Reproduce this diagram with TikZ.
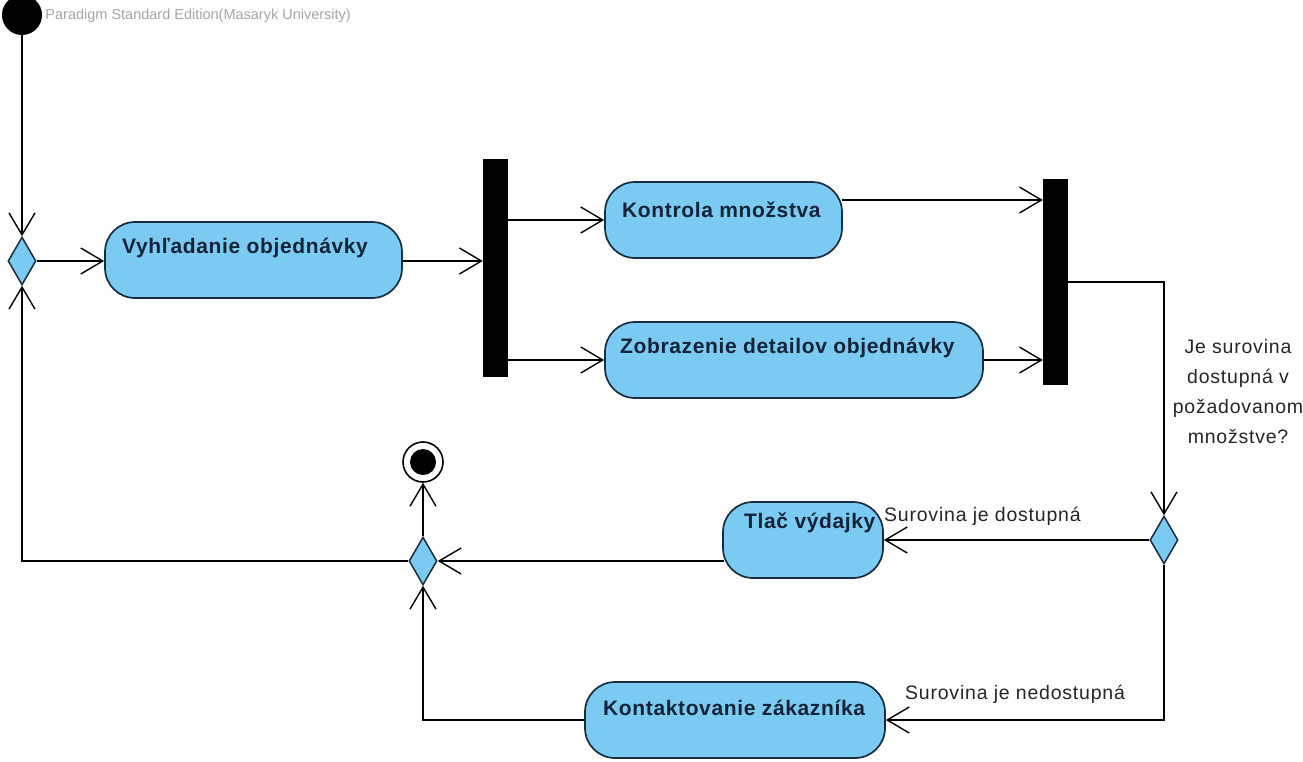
\documentclass[tikz,border=0pt]{standalone}
\usepackage{fontspec}
\setmainfont{Liberation Sans}
\newfontfamily\boxfont[LetterSpace=3]{Liberation Sans}
\newfontfamily\lblfont[LetterSpace=4]{Liberation Sans}
\usetikzlibrary{arrows.meta,shapes.geometric}
\definecolor{actfill}{RGB}{122,202,242}
\definecolor{actdraw}{RGB}{25,45,65}
\definecolor{acttext}{RGB}{20,35,55}
\begin{document}
\begin{tikzpicture}[x=1pt,y=-1pt,
  act/.style={draw=actdraw, fill=actfill, line width=1.7pt, rounded corners=30pt, inner sep=0pt},
  acttxt/.style={anchor=west, font=\boxfont\fontsize{21}{25}\selectfont\bfseries, text=acttext, inner sep=0pt},
  dec/.style={diamond, draw=actdraw, fill=actfill, line width=1.5pt, inner sep=0pt, minimum width=28pt, minimum height=48pt},
  bar/.style={fill=black, draw=none, inner sep=0pt, minimum width=25pt},
  flow/.style={line width=1.4pt, -{Straight Barb[length=22pt,width=26pt,line width=1.4pt]}},
  lbl/.style={font=\lblfont\fontsize{19.5}{30}\selectfont, text=black!85, inner sep=0pt}]
\useasboundingbox (0,0) rectangle (1303,761);
\fill[white] (0,0) rectangle (1303,761);
\begin{scope}
\clip (0,0) rectangle (1303,761);
\node[anchor=base west, font=\fontsize{14.5}{16}\selectfont, text=black!35, inner sep=0pt] (wm) at (2,19) {Visual Paradigm Standard Edition(Masaryk University)};
\node[circle, fill=black, minimum size=40pt, inner sep=0pt] (init) at (22,15) {};
\end{scope}

% nodes
\node[dec] (d1) at (22,261) {};
\node[act, minimum width=297pt, minimum height=76pt] (a1) at (253.5,260) {};
\node[acttxt] (a1t) at (122,248) {Vyhľadanie objednávky};
\node[bar, minimum height=218pt] (bar1) at (495.5,268) {};
\node[act, minimum width=237pt, minimum height=76pt] (k) at (723.5,220) {};
\node[acttxt] (kt) at (622,210) {Kontrola množstva};
\node[act, minimum width=378pt, minimum height=76pt] (z) at (794,360) {};
\node[acttxt] (zt) at (620,348) {Zobrazenie detailov objednávky};
\node[bar, minimum height=206pt] (bar2) at (1055.5,282) {};
\node[dec] (d2) at (1164,540) {};
\node[act, minimum width=160pt, minimum height=76pt] (t) at (803,540) {};
\node[acttxt] (tt) at (744,523) {Tlač výdajky};
\node[dec] (d3) at (423,561) {};
\node[circle, draw=black, line width=1.6pt, fill=white, minimum size=40pt, inner sep=0pt] (fin) at (423,462) {};
\node[circle, fill=black, minimum size=26pt, inner sep=0pt] (finin) at (fin.center) {};
\node[act, minimum width=300pt, minimum height=76pt] (c) at (735,720) {};
\node[acttxt] (ct) at (603,708) {Kontaktovanie zákazníka};

% labels
\node[lbl, align=center] (q) at (1238,392) {Je surovina\\dostupná v\\požadovanom\\množstve?};
\node[lbl, anchor=west] (l1) at (884,516) {Surovina je dostupná};
\node[lbl, anchor=west] (l2) at (905,694) {Surovina je nedostupná};

% connectors
\draw[flow] (init.south) -- (d1.north);
\draw[flow] (d1.east) -- (d1.east -| a1.west);
\draw[flow] (a1.east |- d1.east) -- (d1.east -| bar1.west);
\draw[flow] (bar1.east |- k.west) -- (k.west);
\draw[flow] (bar1.east |- z.west) -- (z.west);
\draw[flow] ([xshift=-1pt,yshift=20pt]k.east) -- ([yshift=20pt]k.east -| bar2.west);
\draw[flow] (z.east) -- (z.east -| bar2.west);
\draw[flow] (bar2.east) -| (d2.north);
\draw[flow] (d2.west) -- (t.east);
\draw[flow] ([xshift=2pt,yshift=-21pt]t.west) -- (d3.east);
\draw[flow] (d3.north) -- (fin.south);
\draw[flow] (d3.west) -| (d1.south);
\draw[flow] (d2.south) |- (c.east);
\draw[flow] (c.west) -| (d3.south);
\end{tikzpicture}
\end{document}
